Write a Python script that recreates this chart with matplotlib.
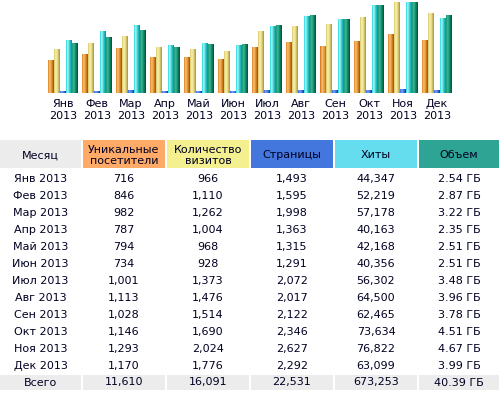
import numpy as np
import matplotlib.pyplot as plt
from matplotlib.colors import LinearSegmentedColormap
from matplotlib.patches import Rectangle

months = ['Янв', 'Фев', 'Мар', 'Апр', 'Май', 'Июн',
          'Июл', 'Авг', 'Сен', 'Окт', 'Ноя', 'Дек']
year = '2013'
visitors = [716, 846, 982, 787, 794, 734, 1001, 1113, 1028, 1146, 1293, 1170]
visits = [966, 1110, 1262, 1004, 968, 928, 1373, 1476, 1514, 1690, 2024, 1776]
pages = [1493, 1595, 1998, 1363, 1315, 1291, 2072, 2017, 2122, 2346, 2627, 2292]
hits = [44347, 52219, 57178, 40163, 42168, 40356, 56302, 64500, 62465, 73634, 76822, 63099]
bandwidth = [2.54, 2.87, 3.22, 2.35, 2.51, 2.51, 3.48, 3.96, 3.78, 4.51, 4.67, 3.99]

headers = ['Месяц', 'Уникальные\nпосетители', 'Количество\nвизитов',
           'Страницы', 'Хиты', 'Объем']
head_bg = ['#ececec', '#ffaa66', '#f4f090', '#4477dd', '#66ddee', '#2ea495']

# bar gradients (left -> right)
grads = [
    ['#dc8224', '#f7c275', '#e2922f', '#b05a08'],
    ['#d8c868', '#f9f0b0', '#e6d880', '#b0a048'],
    ['#3366dd', '#77a0ff', '#4477dd', '#1a44aa'],
    ['#22d6dc', '#a8f8f8', '#33cccc', '#119aa0'],
    ['#1c9a78', '#38b898', '#15876a', '#005e40'],
]

txt = '#000022'
plt.rcParams['font.family'] = ['DejaVu Sans']
plt.rcParams['font.size'] = 8

W, H = 499, 398
fig = plt.figure(figsize=(W / 100, H / 100), dpi=100)

# table layer in pixel coordinates
tab = fig.add_axes([0, 0, 1, 1], zorder=0)
tab.set_xlim(0, W)
tab.set_ylim(H, 0)
tab.axis('off')

cols = [(0, 81), (83, 165), (167, 249), (251, 333), (335, 417), (419, 499)]
for (a, b), bg, h in zip(cols, head_bg, headers):
    tab.add_patch(Rectangle((a, 140), b - a, 28, color=bg, lw=0))
    tab.text((a + b) / 2, 155.5, h, ha='center', va='center', color=txt,
             linespacing=1.08)

rows = []
for i in range(12):
    rows.append([f'{months[i]} {year}', f'{visitors[i]:,}', f'{visits[i]:,}',
                 f'{pages[i]:,}', f'{hits[i]:,}', f'{bandwidth[i]:.2f} ГБ'])
for r, row in enumerate(rows):
    y = 179 + 17 * r
    for (a, b), s in zip(cols, row):
        tab.text((a + b) / 2, y, s, ha='center', va='center', color=txt)

totals = ['Всего', f'{sum(visitors):,}', f'{sum(visits):,}', f'{sum(pages):,}',
          f'{sum(hits):,}', f'{sum(bandwidth):.2f} ГБ']
for (a, b), s in zip(cols, totals):
    tab.add_patch(Rectangle((a, 375), b - a, 15, color='#ececec', lw=0))
    tab.text((a + b) / 2, 382.5, s, ha='center', va='center', color=txt)

# bar chart
ax = fig.add_axes([46 / W, (H - 93) / H, 408 / W, 91 / H], zorder=1)
ax.patch.set_alpha(0)

x = np.arange(12)
bw = 6 / 34
series = [
    np.array(visitors) / max(visits),
    np.array(visits) / max(visits),
    np.array(pages) / max(hits),
    np.array(hits) / max(hits),
    np.array(bandwidth) / max(bandwidth),
]
grad = np.linspace(0, 1, 12).reshape(1, -1)
for k, vals in enumerate(series):
    cmap = LinearSegmentedColormap.from_list(f'g{k}', grads[k])
    bars = ax.bar(x + (k - 2) * bw, vals, width=bw, color='none', lw=0)
    for rect in bars:
        x0 = rect.get_x()
        ax.imshow(grad, extent=[x0, x0 + rect.get_width(), 0, rect.get_height()],
                  aspect='auto', cmap=cmap, interpolation='nearest', zorder=2)

ax.set_xlim(-0.5, 11.5)
ax.set_ylim(0, 1)
ax.set_xticks(x)
ax.set_xticklabels([f'{m}\n{year}' for m in months], color=txt, linespacing=1.2)
ax.set_yticks([])
ax.tick_params(length=0, pad=4.5)
for s in ax.spines.values():
    s.set_visible(False)

fig.savefig('out.png', dpi=100)
